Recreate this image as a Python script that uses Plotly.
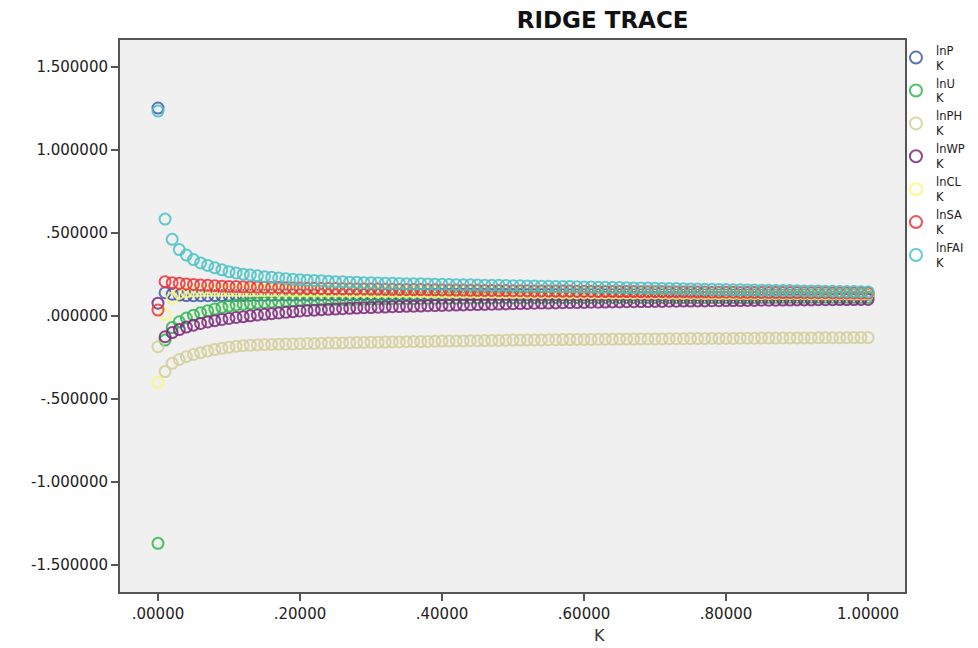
import plotly.graph_objects as go

K = [i / 100 for i in range(101)]

lnP = [1.253, .140, .131, .126, .123, .122, .122, .122, .123, .123,
       .124, .124, .124, .125, .125, .125, .126, .126, .126, .127,
       .127, .127, .127, .128, .128, .128, .128, .128, .129, .129,
       .129, .129, .129, .129, .129, .129, .129, .129, .129, .129,
       .130, .130, .130, .130, .130, .130, .130, .130, .130, .130,
       .130, .130, .130, .130, .130, .130, .130, .130, .130, .130,
       .130, .130, .130, .130, .130, .130, .130, .130, .130, .130,
       .130, .129, .129, .129, .129, .129, .129, .129, .129, .129,
       .129, .129, .129, .129, .129, .129, .129, .129, .129, .129,
       .129, .129, .129, .129, .129, .129, .129, .129, .129, .129,
       .129]

lnU = [-1.370, -.145, -.070, -.035, -.012, .005, .019, .031, .042, .052,
       .060, .066, .071, .075, .079, .082, .085, .087, .090, .092,
       .094, .095, .096, .097, .098, .100, .100, .101, .102, .103,
       .104, .104, .105, .105, .106, .106, .106, .107, .107, .107,
       .108, .108, .108, .108, .109, .109, .109, .109, .110, .110,
       .110, .110, .110, .110, .111, .111, .111, .111, .111, .111,
       .111, .111, .111, .112, .112, .112, .112, .112, .112, .112,
       .112, .112, .112, .112, .112, .112, .112, .112, .112, .112,
       .112, .112, .112, .112, .112, .113, .113, .113, .113, .113,
       .113, .113, .113, .113, .113, .113, .113, .113, .113, .113,
       .113]

lnPH = [-.185, -.335, -.285, -.262, -.245, -.232, -.221, -.211, -.202, -.195,
        -.188, -.183, -.179, -.176, -.174, -.172, -.171, -.170, -.169, -.168,
        -.167, -.166, -.165, -.164, -.163, -.163, -.162, -.161, -.160, -.159,
        -.158, -.158, -.157, -.156, -.156, -.155, -.154, -.154, -.153, -.152,
        -.151, -.151, -.150, -.150, -.149, -.149, -.148, -.147, -.147, -.146,
        -.145, -.145, -.144, -.144, -.144, -.143, -.143, -.142, -.142, -.141,
        -.141, -.141, -.140, -.140, -.140, -.139, -.139, -.139, -.138, -.138,
        -.138, -.138, -.137, -.137, -.137, -.136, -.136, -.136, -.135, -.135,
        -.135, -.135, -.134, -.134, -.134, -.133, -.133, -.133, -.132, -.132,
        -.132, -.132, -.132, -.131, -.131, -.131, -.131, -.131, -.130, -.130,
        -.130]

lnWP = [.077, -.125, -.100, -.082, -.067, -.055, -.045, -.036, -.028, -.021,
        -.015, -.009, -.004, .001, .006, .010, .014, .018, .022, .026,
        .030, .033, .035, .038, .040, .042, .044, .046, .048, .050,
        .051, .053, .054, .056, .057, .058, .059, .060, .062, .063,
        .064, .065, .066, .067, .068, .069, .070, .071, .072, .073,
        .074, .075, .076, .077, .078, .078, .079, .080, .081, .081,
        .082, .083, .083, .084, .085, .085, .086, .086, .087, .087,
        .088, .088, .089, .089, .090, .090, .091, .091, .092, .092,
        .093, .093, .093, .094, .094, .095, .095, .095, .096, .096,
        .097, .097, .097, .098, .098, .098, .099, .099, .099, .100,
        .100]

lnCL = [-.400, .010, .107, .137, .146, .150, .152, .153, .153, .153,
        .153, .153, .153, .152, .152, .152, .152, .151, .151, .151,
        .150, .150, .150, .150, .149, .149, .149, .148, .148, .148,
        .147, .147, .147, .146, .146, .146, .145, .145, .145, .144,
        .144, .144, .143, .143, .143, .142, .142, .142, .141, .141,
        .141, .141, .140, .140, .140, .140, .140, .139, .139, .139,
        .139, .139, .138, .138, .138, .138, .138, .137, .137, .137,
        .137, .137, .136, .136, .136, .136, .136, .135, .135, .135,
        .135, .135, .135, .135, .134, .134, .134, .134, .134, .134,
        .134, .134, .133, .133, .133, .133, .133, .133, .132, .132,
        .132]

lnSA = [.036, .207, .201, .197, .193, .190, .187, .185, .183, .180,
        .178, .177, .176, .175, .174, .173, .172, .171, .170, .169,
        .168, .167, .167, .166, .165, .165, .164, .164, .163, .163,
        .162, .162, .161, .161, .160, .160, .159, .159, .158, .158,
        .157, .157, .156, .156, .155, .155, .154, .154, .153, .153,
        .152, .152, .152, .151, .151, .151, .150, .150, .150, .149,
        .149, .149, .148, .148, .148, .147, .147, .147, .146, .146,
        .146, .146, .145, .145, .145, .144, .144, .144, .143, .143,
        .143, .143, .142, .142, .142, .142, .141, .141, .141, .141,
        .141, .140, .140, .140, .140, .139, .139, .139, .139, .138,
        .138]

lnFAI = [1.235, .584, .462, .400, .367, .340, .320, .305, .290, .278,
         .267, .259, .252, .247, .242, .237, .233, .229, .225, .221,
         .218, .216, .214, .212, .209, .207, .206, .204, .203, .201,
         .200, .199, .198, .197, .196, .195, .195, .194, .193, .192,
         .191, .190, .189, .188, .188, .187, .186, .185, .185, .184,
         .183, .182, .181, .181, .180, .179, .178, .177, .177, .176,
         .175, .174, .173, .173, .172, .171, .170, .169, .169, .168,
         .167, .166, .165, .165, .164, .163, .162, .161, .161, .160,
         .159, .158, .158, .157, .156, .155, .155, .154, .153, .153,
         .152, .151, .151, .150, .149, .149, .148, .147, .147, .146,
         .145]

series_names = ["lnP<br>K", "lnU<br>K", "lnPH<br>K", "lnWP<br>K",
                "lnCL<br>K", "lnSA<br>K", "lnFAI<br>K"]
series_values = [lnP, lnU, lnPH, lnWP, lnCL, lnSA, lnFAI]
colors = ["#3E58AC", "#2EB848", "#D3CE97", "#7C287D",
          "#FBF873", "#EF3338", "#48C2C5"]

x_tickvals = [0, 0.2, 0.4, 0.6, 0.8, 1.0]
x_ticktext = [".00000", ".20000", ".40000", ".60000", ".80000", "1.00000"]
y_tickvals = [-1.5, -1.0, -0.5, 0.0, 0.5, 1.0, 1.5]
y_ticktext = ["-1.500000", "-1.000000", "-.500000", ".000000",
              ".500000", "1.000000", "1.500000"]

fig = go.Figure()
for name, vals, col in zip(series_names, series_values, colors):
    fig.add_trace(go.Scatter(
        x=K, y=vals, mode="markers", name=name,
        marker=dict(symbol="circle-open", size=11, color=col,
                    line=dict(width=2, color=col), opacity=0.85),
    ))

axis_common = dict(
    showgrid=False, zeroline=False, showline=True, mirror=True,
    linecolor="#555555", linewidth=2, ticks="outside", ticklen=7,
    tickwidth=2, tickcolor="#555555",
    tickfont=dict(family="DejaVu Sans", size=15, color="#222222"),
)

fig.update_layout(
    width=970, height=640,
    margin=dict(l=112, r=73, t=32, b=56, autoexpand=False),
    paper_bgcolor="white", plot_bgcolor="#F0F0F0",
    title=dict(text="<b>RIDGE TRACE</b>", x=0.613, y=0.981,
               xanchor="center", yanchor="middle",
               font=dict(family="DejaVu Sans", size=23, color="#111111")),
    xaxis=dict(range=[-0.0535, 1.052], tickvals=x_tickvals,
               ticktext=x_ticktext, automargin=False, **axis_common),
    yaxis=dict(range=[-1.663, 1.663], tickvals=y_tickvals,
               ticktext=y_ticktext, automargin=False, **axis_common),
    legend=dict(x=0.9885, y=1.007, xanchor="left", yanchor="top",
                bgcolor="rgba(0,0,0,0)",
                font=dict(family="DejaVu Sans", size=11.5, color="#222222"),
                itemsizing="constant", tracegroupgap=0),
    showlegend=True,
    annotations=[dict(text="K", x=0.611, y=-0.078, xref="paper", yref="paper",
                      showarrow=False, xanchor="center", yanchor="middle",
                      font=dict(family="DejaVu Sans", size=16, color="#333333"))],
)

fig.write_html("out.html")
